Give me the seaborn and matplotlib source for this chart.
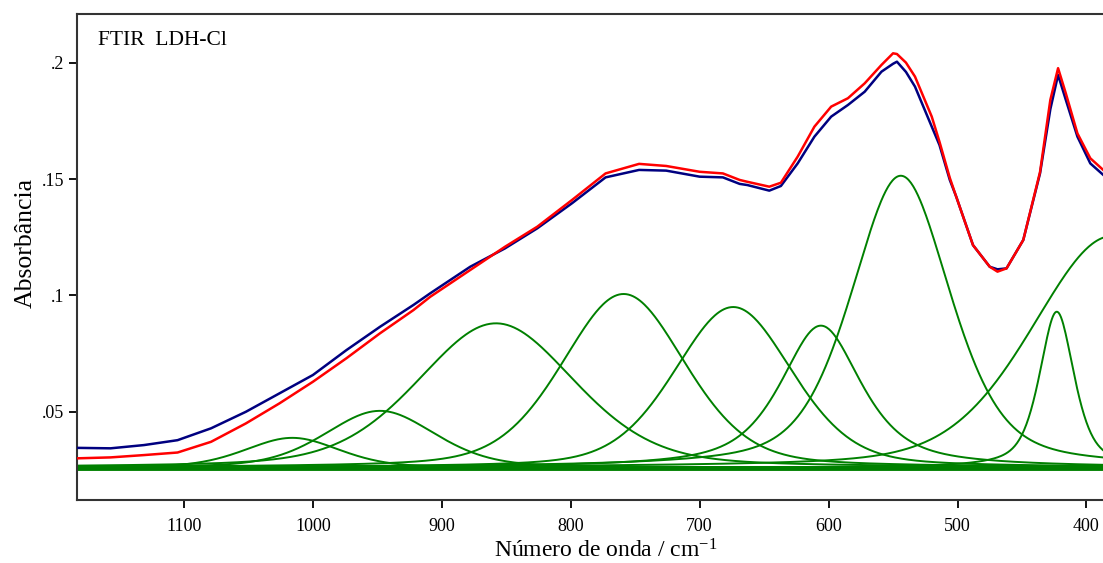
import numpy as np
import pandas as pd
import matplotlib
matplotlib.use("Agg")
import matplotlib.pyplot as plt
import seaborn as sns

# ---- data ----
wavenumber = [1183, 1157, 1131, 1105, 1079, 1052, 1026, 1000, 974, 948,
              922, 909, 878, 851, 826, 799, 773, 747, 726, 700,
              682, 669, 663, 646, 637, 624, 611, 598, 585, 572,
              559, 550, 547, 540, 533, 520, 514, 506, 501, 488, 475,
              469, 462, 449, 436, 428, 422, 416, 407, 397, 384, 379]
measured = [0.0345, 0.0343, 0.0357, 0.0378, 0.0429, 0.0500, 0.0579, 0.0658, 0.0765, 0.0865,
            0.0959, 0.1009, 0.1123, 0.1202, 0.1288, 0.1396, 0.1507, 0.1539, 0.1536, 0.1510,
            0.1507, 0.1479, 0.1474, 0.1450, 0.1470, 0.1567, 0.1682, 0.1768, 0.1818, 0.1875,
            0.1961, 0.1995, 0.2004, 0.1960, 0.1897, 0.1725, 0.1646, 0.1496, 0.1424, 0.1216, 0.1123,
            0.1112, 0.1116, 0.1238, 0.1524, 0.1800, 0.1947, 0.1840, 0.1682, 0.1567, 0.1503, 0.1488]
fitted = [0.0300, 0.0304, 0.0314, 0.0325, 0.0371, 0.0450, 0.0536, 0.0629, 0.0730, 0.0837,
          0.0937, 0.0994, 0.1109, 0.1209, 0.1295, 0.1410, 0.1524, 0.1565, 0.1556, 0.1531,
          0.1524, 0.1496, 0.1488, 0.1467, 0.1484, 0.1596, 0.1725, 0.1811, 0.1847, 0.1911,
          0.1990, 0.2040, 0.2037, 0.2000, 0.1940, 0.1768, 0.1660, 0.1505, 0.1424, 0.1216, 0.1123,
          0.1102, 0.1116, 0.1238, 0.1530, 0.1840, 0.1976, 0.1868, 0.1696, 0.1589, 0.1524, 0.1510]

# fitted band components (pseudo-Voigt parameters)
band_center = [1016, 948, 858, 759, 674, 606, 544, 423, 380]
band_height = [0.0128, 0.0244, 0.0620, 0.0746, 0.0690, 0.0610, 0.1254, 0.0670, 0.0995]
band_fwhm = [86, 100, 144, 113, 108, 75, 91, 32, 148]
band_lorentz = [0.3, 0.3, 0.3, 0.3, 0.3, 0.7, 0.45, 0.6, 0.3]
baseline = 0.026

ytick_vals = [0.05, 0.10, 0.15, 0.20]
ytick_labels = [".05", ".1", ".15", ".2"]
xtick_vals = [1100, 1000, 900, 800, 700, 600, 500, 400]

# ---- style ----
sns.set_style("ticks")
plt.rcParams["font.family"] = ["Liberation Serif", "DejaVu Serif"]
plt.rcParams["mathtext.fontset"] = "custom"
plt.rcParams["mathtext.rm"] = "Liberation Serif"
plt.rcParams["mathtext.it"] = "Liberation Serif:italic"
plt.rcParams["text.color"] = "black"
plt.rcParams["axes.labelcolor"] = "black"
plt.rcParams["xtick.color"] = "black"
plt.rcParams["ytick.color"] = "black"

fig = plt.figure(figsize=(11.03, 5.63), dpi=100)
ax = fig.add_axes([77 / 1103, 1 - 500 / 563, 1 - 77 / 1103 + 0.01, (500 - 13.5) / 563])

grid = np.linspace(1183, 378.6, 900)
comp_frames = []
for i, (c, h, w, eta) in enumerate(zip(band_center, band_height, band_fwhm, band_lorentz)):
    u = (grid - c) / (w / 2.0)
    prof = h * (eta / (1 + u ** 2) + (1 - eta) * np.exp(-np.log(2) * u ** 2)) + baseline
    comp_frames.append(pd.DataFrame({"wn": grid, "A": prof, "band": f"b{i}"}))
comps = pd.concat(comp_frames, ignore_index=True)

ax.axhline(baseline, color="#008000", lw=3.5, zorder=1)
sns.lineplot(data=comps, x="wn", y="A", units="band", estimator=None,
             color="#008000", lw=1.4, ax=ax, sort=False, zorder=2)

df = pd.DataFrame({"wn": wavenumber, "measured": measured, "fitted": fitted})
sns.lineplot(data=df, x="wn", y="measured", color="#000080", lw=1.8, ax=ax,
             sort=False, estimator=None, zorder=3)
sns.lineplot(data=df, x="wn", y="fitted", color="#ff0000", lw=1.8, ax=ax,
             sort=False, estimator=None, zorder=4)

ax.set_xlim(1183, 378.6)
ax.set_ylim(0.0121, 0.2211)
ax.set_xticks(xtick_vals)
ax.set_xticklabels([str(v) for v in xtick_vals], fontsize=13)
ax.set_yticks(ytick_vals)
ax.set_yticklabels(ytick_labels, fontsize=13)
ax.tick_params(axis="both", direction="out", length=6, width=1.3, color="black", pad=3)
ax.tick_params(axis="x", pad=7)

for s in ["left", "top", "bottom"]:
    ax.spines[s].set_color("#333333")
    ax.spines[s].set_linewidth(1.5)
ax.spines["right"].set_visible(False)

ax.set_xlabel("Número de onda / cm$^{-1}$", fontsize=17)
ax.xaxis.set_label_coords((600 - 77) / 1026, -(39 / 486.5))
ax.set_ylabel("Absorbância", fontsize=18.5)
ax.yaxis.set_label_coords(-(77 - 37) / 1026, (500 - 243) / 486.5)
ax.text(0.0205, 0.965, "FTIR  LDH-Cl", transform=ax.transAxes, fontsize=15.5,
        ha="left", va="top")
ax.grid(False)

fig.savefig("out.png", dpi=100)
